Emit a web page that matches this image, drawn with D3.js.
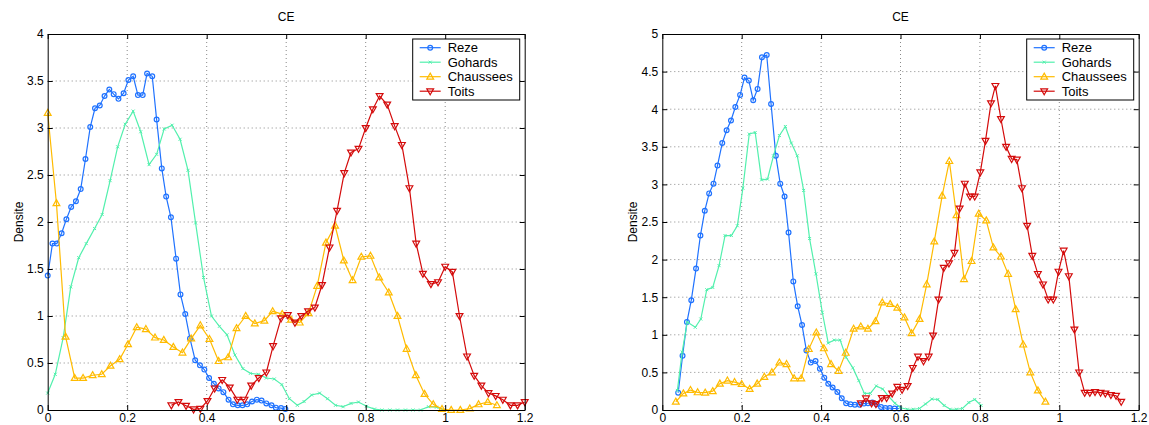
<!DOCTYPE html>
<html>
<head>
<meta charset="utf-8">
<script src="https://cdn.jsdelivr.net/npm/d3@7"></script>
<style>
  body { margin: 0; background: #fff; }
  svg { display: block; font-family: "Liberation Sans", Arial, sans-serif; }
  .tick text { font-size: 12px; fill: #000; }
  .grid line { stroke: #888; stroke-width: 1; stroke-dasharray: 1 3; }
</style>
</head>
<body>
<div id="graphicContainer"></div>
<script>
// ---- data ----
const seriesNames = ['Reze', 'Gohards', 'Chaussees', 'Toits'];
const xTicks = [0, 0.2, 0.4, 0.6, 0.8, 1, 1.2];
const yTicksLeft = [0, 0.5, 1, 1.5, 2, 2.5, 3, 3.5, 4];
const yTicksRight = [0, 0.5, 1, 1.5, 2, 2.5, 3, 3.5, 4, 4.5, 5];

// left panel
const rezeLX = [0,0.012,0.023,0.035,0.047,0.059,0.071,0.083,0.095,0.107,0.119,0.131,0.143,0.155,0.166,0.178,0.191,0.203,0.215,0.227,0.239,0.25,0.263,0.274,0.287,0.298,0.31,0.323,0.334,0.346,0.358,0.371,0.383,0.394,0.406,0.418,0.43,0.442,0.455,0.466,0.478,0.49,0.502,0.514,0.526,0.538,0.55,0.563,0.574,0.587,0.598];
const rezeLY = [1.43,1.77,1.77,1.88,2.03,2.16,2.22,2.35,2.67,3.01,3.21,3.24,3.34,3.41,3.36,3.31,3.37,3.51,3.55,3.35,3.35,3.58,3.55,3.09,2.57,2.27,2.05,1.61,1.23,1.02,0.76,0.53,0.475,0.43,0.34,0.28,0.23,0.19,0.11,0.06,0.05,0.05,0.06,0.09,0.11,0.10,0.07,0.05,0.025,0.02,0.01];
const gohardsLX = [0,0.019,0.039,0.058,0.078,0.097,0.118,0.137,0.157,0.176,0.195,0.215,0.234,0.255,0.274,0.293,0.313,0.333,0.353,0.372,0.392,0.412,0.432,0.451,0.471,0.491,0.51,0.53,0.55,0.57,0.589,0.608,0.628,0.645,0.664,0.684,0.704,0.724,0.743,0.763,0.782,0.802,0.822,0.841,0.861,0.88,0.9,0.919,0.938,0.958,0.978,0.997];
const gohardsLY = [0.18,0.38,0.77,1.31,1.62,1.77,1.93,2.08,2.44,2.80,3.04,3.18,2.96,2.61,2.72,2.99,3.03,2.88,2.55,1.99,1.41,1.00,0.89,0.80,0.585,0.44,0.39,0.38,0.34,0.33,0.27,0.12,0.05,0.09,0.16,0.18,0.12,0.05,0.035,0.07,0.085,0.04,0.01,0,0,0,0,0,0,0.035,0.03,0];
const chausseesLX = [0,0.022,0.045,0.068,0.089,0.113,0.136,0.158,0.181,0.202,0.224,0.247,0.27,0.292,0.316,0.339,0.361,0.384,0.407,0.43,0.454,0.475,0.498,0.521,0.545,0.566,0.59,0.612,0.634,0.656,0.678,0.7,0.723,0.745,0.767,0.789,0.812,0.834,0.858,0.88,0.903,0.926,0.948,0.97,0.992,1.015,1.038,1.062,1.084,1.107,1.13];
const chausseesLY = [3.16,2.2,0.78,0.34,0.34,0.37,0.38,0.47,0.54,0.70,0.88,0.86,0.77,0.745,0.67,0.61,0.76,0.90,0.755,0.52,0.56,0.87,1.0,0.92,0.95,1.05,1.02,0.96,0.93,1.03,1.32,1.78,1.96,1.59,1.38,1.63,1.64,1.41,1.25,1.0,0.65,0.37,0.17,0.06,0.01,0,0,0.015,0.06,0.085,0.05];
const toitsLX = [0.311,0.329,0.348,0.367,0.384,0.402,0.42,0.439,0.458,0.477,0.495,0.512,0.531,0.55,0.567,0.587,0.604,0.622,0.638,0.655,0.672,0.69,0.709,0.728,0.746,0.763,0.782,0.8,0.818,0.835,0.854,0.873,0.891,0.91,0.927,0.944,0.964,0.982,1.0,1.018,1.036,1.055,1.073,1.091,1.109,1.127,1.145,1.164,1.182,1.2];
const toitsLY = [0.05,0.085,0.045,0.007,0.014,0.096,0.23,0.32,0.24,0.11,0.11,0.26,0.34,0.40,0.68,0.975,1.01,0.93,1.0,1.05,1.09,1.33,1.73,2.12,2.52,2.74,2.78,3.0,3.2,3.34,3.25,3.02,2.82,2.36,1.77,1.45,1.34,1.36,1.525,1.47,1.0,0.57,0.365,0.26,0.18,0.15,0.11,0.05,0.05,0.085];

// right panel
const rezeRX = [0.04,0.051,0.062,0.073,0.085,0.096,0.107,0.118,0.129,0.139,0.151,0.162,0.173,0.184,0.196,0.207,0.218,0.229,0.24,0.251,0.263,0.274,0.286,0.297,0.308,0.318,0.33,0.341,0.352,0.363,0.374,0.386,0.397,0.408,0.418,0.429,0.441,0.452,0.463,0.474,0.485,0.497,0.508,0.518,0.529,0.54,0.551,0.562,0.573,0.585,0.596];
const rezeRY = [0.23,0.72,1.17,1.46,1.88,2.32,2.65,2.88,3.01,3.25,3.55,3.72,3.85,4.03,4.19,4.42,4.38,4.12,4.27,4.69,4.72,4.07,3.38,3.01,2.84,2.36,1.71,1.38,1.13,0.79,0.63,0.65,0.55,0.43,0.35,0.30,0.24,0.155,0.09,0.075,0.07,0.07,0.085,0.09,0.10,0.075,0.04,0.025,0.025,0.02,0.02];
const gohardsRX = [0.038,0.05,0.063,0.083,0.097,0.112,0.127,0.143,0.158,0.174,0.189,0.203,0.219,0.234,0.25,0.265,0.28,0.295,0.31,0.325,0.34,0.356,0.371,0.387,0.403,0.418,0.433,0.448,0.463,0.48,0.495,0.509,0.524,0.539,0.555,0.57,0.586,0.6,0.617,0.632,0.648,0.663,0.679,0.694,0.71,0.725,0.741,0.756,0.772,0.787,0.803];
const gohardsRY = [0.26,0.77,1.17,1.10,1.21,1.60,1.63,1.92,2.32,2.32,2.45,2.95,3.67,3.69,3.06,3.07,3.38,3.65,3.77,3.55,3.38,2.92,2.28,1.81,1.30,0.89,0.93,0.93,0.70,0.56,0.39,0.22,0.22,0.32,0.28,0.18,0.09,0.03,0.01,0.01,0.02,0.08,0.146,0.14,0.06,0.01,0.01,0.02,0.10,0.14,0.06];
const chausseesRX = [0.034,0.053,0.071,0.089,0.108,0.127,0.145,0.164,0.182,0.2,0.22,0.239,0.257,0.276,0.295,0.313,0.332,0.35,0.369,0.388,0.407,0.425,0.444,0.462,0.482,0.5,0.518,0.537,0.554,0.574,0.592,0.61,0.628,0.648,0.666,0.685,0.705,0.723,0.741,0.76,0.779,0.797,0.816,0.834,0.853,0.871,0.89,0.909,0.927,0.946,0.965];
const chausseesRY = [0.11,0.22,0.265,0.235,0.23,0.25,0.35,0.39,0.37,0.345,0.28,0.35,0.44,0.50,0.63,0.61,0.42,0.42,0.81,1.03,0.82,0.61,0.52,0.76,1.08,1.11,1.08,1.18,1.43,1.41,1.36,1.23,1.02,1.21,1.67,2.24,2.85,3.31,2.59,1.74,1.98,2.61,2.52,2.16,2.04,1.81,1.34,0.87,0.50,0.26,0.11];
const toitsRX = [0.5,0.513,0.527,0.538,0.553,0.565,0.579,0.592,0.604,0.618,0.631,0.644,0.658,0.671,0.682,0.696,0.709,0.722,0.736,0.749,0.762,0.775,0.787,0.801,0.814,0.828,0.839,0.853,0.866,0.88,0.893,0.906,0.919,0.932,0.946,0.959,0.972,0.985,0.998,1.011,1.024,1.038,1.05,1.064,1.077,1.09,1.104,1.116,1.13,1.143,1.156];
const toitsRY = [0.09,0.155,0.09,0.08,0.16,0.16,0.22,0.31,0.27,0.32,0.56,0.71,0.65,0.71,0.99,1.47,1.89,1.95,2.09,2.68,3.01,2.84,2.84,3.16,3.58,4.08,4.31,3.87,3.50,3.34,3.33,2.95,2.45,2.05,1.81,1.67,1.47,1.47,1.84,2.12,1.78,1.07,0.50,0.23,0.23,0.24,0.23,0.22,0.20,0.19,0.11];

const colors = ['#1f72ff', '#52f0ad', '#ffbb00', '#d40b0b'];
const markers = ['circle', 'cross', 'up', 'down'];

const W = 1149, H = 425;
const svg = d3.select('#graphicContainer').append('svg')
  .attr('width', W).attr('height', H);

const panels = [
  { left: 47.7, right: 524.7, yMax: 4, yTicks: yTicksLeft,
    series: [[rezeLX, rezeLY], [gohardsLX, gohardsLY], [chausseesLX, chausseesLY], [toitsLX, toitsLY]] },
  { left: 662.3, right: 1138.7, yMax: 5, yTicks: yTicksRight,
    series: [[rezeRX, rezeRY], [gohardsRX, gohardsRY], [chausseesRX, chausseesRY], [toitsRX, toitsRY]] }
];
const plotTop = 34, plotBottom = 410;
const fmt = d => String(+d.toFixed(1));

function drawMarker(g, type, color, cx, cy) {
  if (type === 'circle') {
    g.append('circle').attr('cx', cx).attr('cy', cy).attr('r', 2.4)
      .attr('fill', 'none').attr('stroke', color).attr('stroke-width', 1.2);
  } else if (type === 'cross') {
    g.append('path').attr('d', `M${cx-1.5},${cy-1.5}L${cx+1.5},${cy+1.5}M${cx-1.5},${cy+1.5}L${cx+1.5},${cy-1.5}`)
      .attr('stroke', color).attr('stroke-width', 1);
  } else {
    const s = type === 'up' ? 1 : -1;
    g.append('path')
      .attr('d', `M${cx},${cy - s*3.6}L${cx+3.4},${cy + s*2.4}L${cx-3.4},${cy + s*2.4}Z`)
      .attr('fill', 'none').attr('stroke', color).attr('stroke-width', 1.2);
  }
}

panels.forEach((p, pi) => {
  const x = d3.scaleLinear().domain([0, 1.2]).range([p.left, p.right]);
  const y = d3.scaleLinear().domain([0, p.yMax]).range([plotBottom, plotTop]);
  const g = svg.append('g').attr('class', 'panel' + pi);

  // grid
  const grid = g.append('g').attr('class', 'grid');
  grid.selectAll('.gx').data(xTicks.slice(1, -1)).enter().append('line')
    .attr('x1', d => x(d)).attr('x2', d => x(d)).attr('y1', plotTop).attr('y2', plotBottom);
  grid.selectAll('.gy').data(p.yTicks.slice(1, -1)).enter().append('line')
    .attr('x1', p.left).attr('x2', p.right).attr('y1', d => y(d)).attr('y2', d => y(d));

  // series
  const line = d3.line().x(d => x(d[0])).y(d => y(d[1]));
  p.series.forEach((s, si) => {
    const pts = s[0].map((v, i) => [v, s[1][i]]);
    g.append('path').datum(pts).attr('d', line)
      .attr('fill', 'none').attr('stroke', colors[si]).attr('stroke-width', 1.2);
    const mg = g.append('g');
    pts.forEach(d => drawMarker(mg, markers[si], colors[si], x(d[0]), y(d[1])));
  });

  // axes (ticks inward on all sides)
  g.append('g').attr('transform', `translate(0,${plotBottom})`)
    .call(d3.axisBottom(x).tickValues(xTicks).tickFormat(fmt).tickSize(-5).tickSizeOuter(0).tickPadding(3.5));
  g.append('g').attr('transform', `translate(0,${plotTop})`)
    .call(d3.axisTop(x).tickValues(xTicks).tickFormat('').tickSize(-5).tickSizeOuter(0));
  g.append('g').attr('transform', `translate(${p.left},0)`)
    .call(d3.axisLeft(y).tickValues(p.yTicks).tickFormat(fmt).tickSize(-5).tickSizeOuter(0).tickPadding(4));
  g.append('g').attr('transform', `translate(${p.right},0)`)
    .call(d3.axisRight(y).tickValues(p.yTicks).tickFormat('').tickSize(-5).tickSizeOuter(0));
  g.selectAll('.domain').attr('stroke', '#000');
  g.selectAll('.tick line').attr('stroke', '#000');

  // title and y label
  g.append('text').attr('x', (p.left + p.right) / 2).attr('y', 21)
    .attr('text-anchor', 'middle').style('font-size', '12px').text('CE');
  g.append('text')
    .attr('transform', `translate(${p.left - 25},${(plotTop + plotBottom) / 2}) rotate(-90)`)
    .attr('text-anchor', 'middle').style('font-size', '12px').text('Densite');

  // legend
  const lx = p.right - 112, ly = 39;
  const lg = g.append('g').attr('transform', `translate(${lx},${ly})`);
  lg.append('rect').attr('width', 107).attr('height', 61)
    .attr('fill', '#fff').attr('stroke', '#000').attr('stroke-width', 1);
  seriesNames.forEach((name, i) => {
    const ry = 8.7 + i * 14.5;
    lg.append('line').attr('x1', 7).attr('x2', 28).attr('y1', ry).attr('y2', ry)
      .attr('stroke', colors[i]).attr('stroke-width', 1.2);
    drawMarker(lg, markers[i], colors[i], 17.5, ry);
    lg.append('text').attr('x', 35).attr('y', ry + 4.6)
      .style('font-size', '13px').text(name);
  });
});
</script>
</body>
</html>
